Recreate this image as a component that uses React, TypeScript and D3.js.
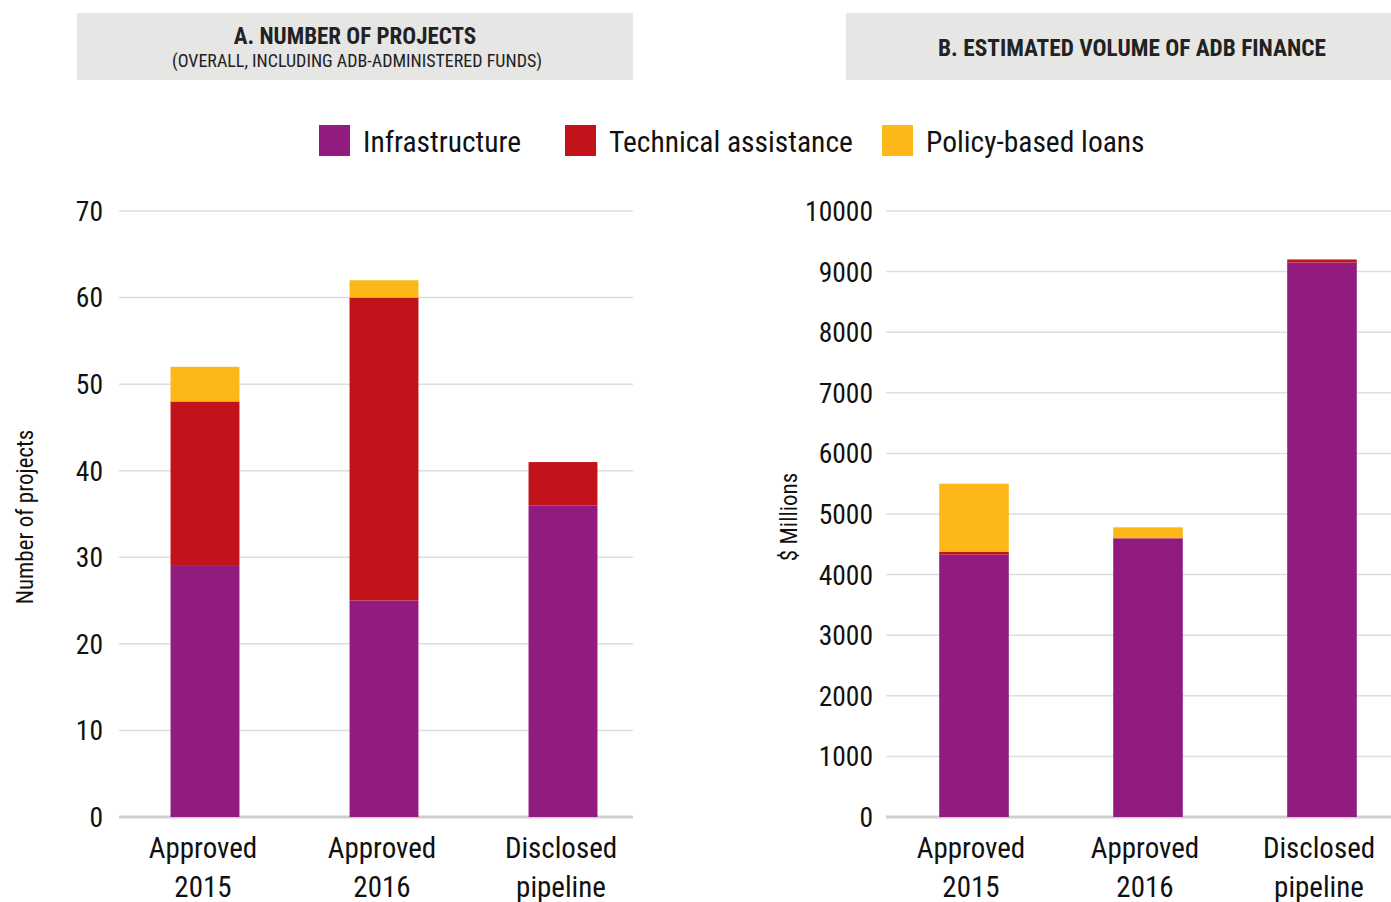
import React from "react";
import * as d3 from "d3";

const categories = ["Approved 2015", "Approved 2016", "Disclosed pipeline"];
const seriesNames = ["Infrastructure", "Technical assistance", "Policy-based loans"];
const seriesColors = ["#921b80", "#c2131b", "#fbb817"];

// Panel A: number of projects
const projInfrastructure = [29, 25, 36];
const projTechnical = [19, 35, 5];
const projPolicy = [4, 2, 0];
const projTicks = [0, 10, 20, 30, 40, 50, 60, 70];

// Panel B: $ millions
const finInfrastructure = [4330, 4600, 9150];
const finTechnical = [50, 0, 50];
const finPolicy = [1120, 180, 0];
const finTicks = [0, 1000, 2000, 3000, 4000, 5000, 6000, 7000, 8000, 9000, 10000];

const FONT = "'Roboto Condensed', 'Liberation Sans Narrow', 'DejaVu Sans Condensed', 'Arial Narrow', sans-serif";

type PanelProps = {
  infra: number[];
  ta: number[];
  pbl: number[];
  ticks: number[];
  yMax: number;
  xRange: [number, number];
  gridX: [number, number];
  tickRight: number;
  yTitle: string;
  yTitleX: number;
  padInner: number;
  labelShift: number;
};

function Panel(p: PanelProps) {
  const y = d3.scaleLinear().domain([0, p.yMax]).range([817, 211]);
  const x = d3.scaleBand<string>().domain(categories).range(p.xRange).paddingInner(p.padInner).paddingOuter(p.padInner / 2);
  const rows = categories.map((c, i) => ({ cat: c, s0: p.infra[i], s1: p.ta[i], s2: p.pbl[i] }));
  const stacked = d3.stack<any>().keys(["s0", "s1", "s2"])(rows);
  return (
    <g>
      {p.ticks.map((t) => (
        <g key={t}>
          <line x1={p.gridX[0]} x2={p.gridX[1]} y1={y(t)} y2={y(t)} stroke={t === 0 ? "#cfcfcf" : "#dedede"} strokeWidth={t === 0 ? 3 : 1.5} />
          <text x={p.tickRight} y={y(t)} dy="0.36em" textAnchor="end" fontSize={27.5} fill="#111">{t}</text>
        </g>
      ))}
      {stacked.map((layer, li) => (
        <g key={li} fill={seriesColors[li]}>
          {layer.map((d, i) => {
            const h = y(d[0]) - y(d[1]);
            if (h <= 0) return null;
            return <rect key={i} x={x(categories[i])} width={x.bandwidth()} y={y(d[1])} height={h} />;
          })}
        </g>
      ))}
      {categories.map((c) => {
        const parts = c === "Disclosed pipeline" ? ["Disclosed", "pipeline"] : [c.split(" ")[0], c.split(" ")[1]];
        const cx = (x(c) as number) + x.bandwidth() / 2 + p.labelShift;
        return (
          <text key={c} x={cx} textAnchor="middle" fontSize={29} fill="#111">
            <tspan x={cx} y={858}>{parts[0]}</tspan>
            <tspan x={cx} y={897}>{parts[1]}</tspan>
          </text>
        );
      })}
      <text transform={`translate(${p.yTitleX},517) rotate(-90)`} textAnchor="middle" fontSize={23} fill="#111" dy="0.35em">{p.yTitle}</text>
    </g>
  );
}

export default function App() {
  const legendX = [319, 565, 882];
  return (
    <svg width={1391} height={902} style={{ position: "absolute", left: 0, top: 0, background: "#fff" }} fontFamily={FONT}>
      <rect x={77} y={13} width={556} height={67} fill="#e6e6e5" />
      <text x={355} y={44} textAnchor="middle" fontSize={23} fontWeight="bold" fill="#222">A. NUMBER OF PROJECTS</text>
      <text x={357} y={67} textAnchor="middle" fontSize={18} fill="#222">(OVERALL, INCLUDING ADB-ADMINISTERED FUNDS)</text>
      <rect x={846} y={13} width={545} height={67} fill="#e6e6e5" />
      <text x={1132} y={56} textAnchor="middle" fontSize={23.3} fontWeight="bold" fill="#222">B. ESTIMATED VOLUME OF ADB FINANCE</text>

      {seriesNames.map((n, i) => (
        <g key={n}>
          <rect x={legendX[i]} y={125} width={31} height={31} fill={seriesColors[i]} />
          <text x={legendX[i] + 44} y={141} dy="0.36em" fontSize={29.5} fill="#111">{n}</text>
        </g>
      ))}

      <Panel infra={projInfrastructure} ta={projTechnical} pbl={projPolicy} ticks={projTicks} yMax={70}
        xRange={[115.5, 652.5]} gridX={[119, 633]} tickRight={103} yTitle="Number of projects" yTitleX={25} padInner={0.615} labelShift={-2} />
      <Panel infra={finInfrastructure} ta={finTechnical} pbl={finPolicy} ticks={finTicks} yMax={10000}
        xRange={[887, 1409]} gridX={[886, 1391]} tickRight={873} yTitle="$ Millions" yTitleX={789} padInner={0.6} labelShift={-3} />
    </svg>
  );
}
